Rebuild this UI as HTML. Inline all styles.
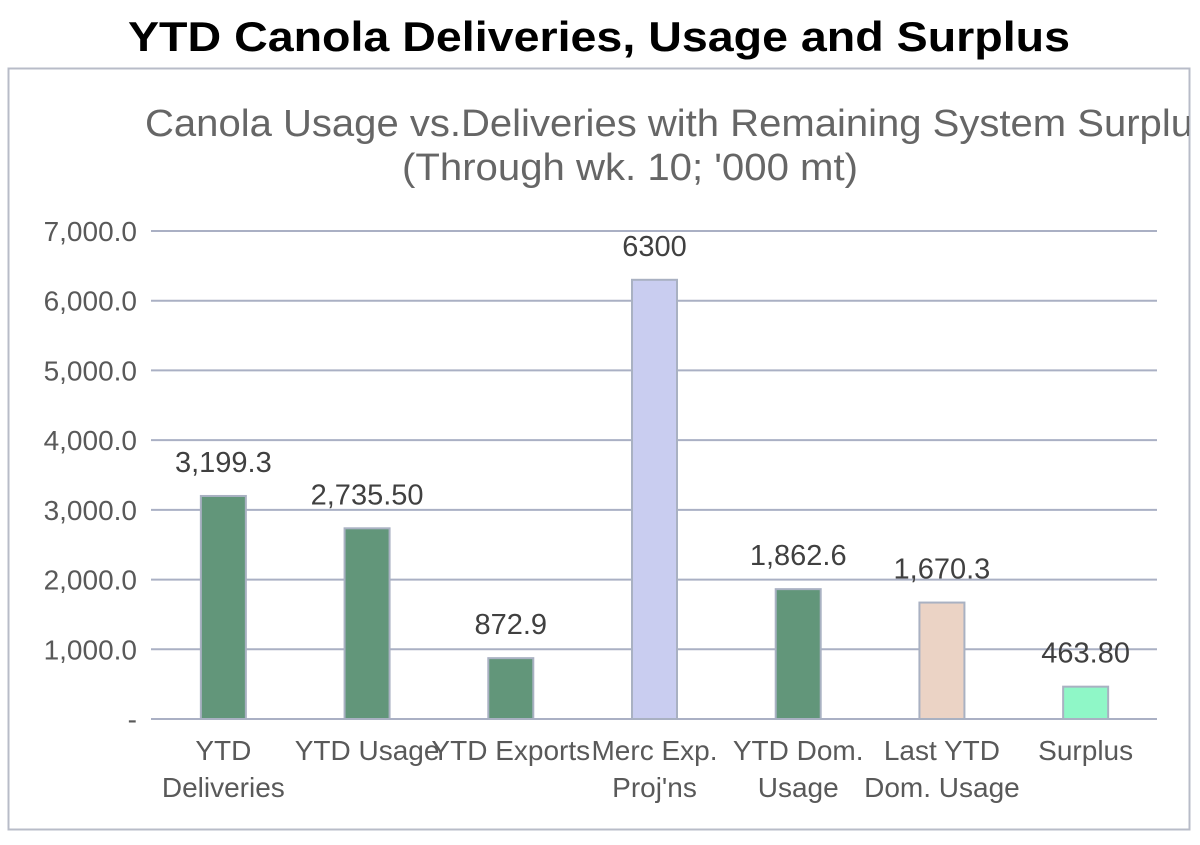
<!DOCTYPE html>
<html><head><meta charset="utf-8"><style>
body{margin:0;background:#fff;width:1200px;height:840px;overflow:hidden;font-family:"Liberation Sans",sans-serif}
</style></head><body>
<svg width="1200" height="840">
<text x="128" y="51" font-size="42" font-weight="bold" fill="#000" textLength="942" lengthAdjust="spacingAndGlyphs" font-family="Liberation Sans, sans-serif">YTD Canola Deliveries, Usage and Surplus</text>
<rect x="8.5" y="68.5" width="1181" height="761" fill="none" stroke="#b8bcc8" stroke-width="2"/>
<svg x="9" y="69" width="1180" height="760" overflow="hidden">
<text x="136" y="67" font-size="38" fill="#666" textLength="1068" lengthAdjust="spacingAndGlyphs">Canola Usage vs.Deliveries with Remaining System Surplus</text>
</svg>
<text x="402" y="180" font-size="38" fill="#666" textLength="456" lengthAdjust="spacingAndGlyphs">(Through wk. 10; '000 mt)</text>
<g id="grid"></g><g id="bars"></g>
</svg>
<script>
const categories=[["YTD","Deliveries"],["YTD Usage"],["YTD Exports"],["Merc Exp.","Proj'ns"],["YTD Dom.","Usage"],["Last YTD","Dom. Usage"],["Surplus"]];
const values=[3199.3,2735.5,872.9,6300,1862.6,1670.3,463.8];
const valueLabels=["3,199.3","2,735.50","872.9","6300","1,862.6","1,670.3","463.80"];
const colors=["#62967a","#62967a","#62967a","#c9cdf0","#62967a","#ebd3c5","#8ff7c7"];
const ticks=[0,1000,2000,3000,4000,5000,6000,7000];
const tickLabels=["-","1,000.0","2,000.0","3,000.0","4,000.0","5,000.0","6,000.0","7,000.0"];
const NS="http://www.w3.org/2000/svg";
const y0=719,y1=231,x0=151,x1=1157;
const y=v=>y0-(v/7000)*(y0-y1);
const step=(x1-x0)/categories.length;
const xc=i=>x0+step*(i+0.5)+0.5;
function mk(t,a,p,txt){const e=document.createElementNS(NS,t);for(const k in a)e.setAttribute(k,a[k]);if(txt!=null)e.textContent=txt;p.appendChild(e);return e;}
const g=document.getElementById('grid'),b=document.getElementById('bars');
ticks.forEach((t,i)=>{
 const l=mk('line',{x1:x0,x2:x1,y1:y(t),y2:y(t),stroke:'#aab0c4','stroke-width':2},g);
 
 
 const tx=mk('text',{x:137,y:y(t)+10,'text-anchor':'end','font-size':28,fill:'#595959'},g,tickLabels[i]);
 
 
});
values.forEach((v,i)=>{
 const bw=45,cx=xc(i);
 const r=mk('rect',{x:cx-bw/2,y:y(v),width:bw,height:y0-y(v),fill:colors[i],stroke:'#a9b1c2','stroke-width':2},b);
 
 
 const vl=mk('text',{x:cx,y:y(v)-24,'text-anchor':'middle','font-size':29,fill:'#404040'},b,valueLabels[i]);
 
 
 categories[i].forEach((s,j)=>{
  const c=mk('text',{x:cx,y:760+j*37,'text-anchor':'middle','font-size':28,fill:'#595959'},b,s);
  
  
 });
});
</script>
</body></html>
